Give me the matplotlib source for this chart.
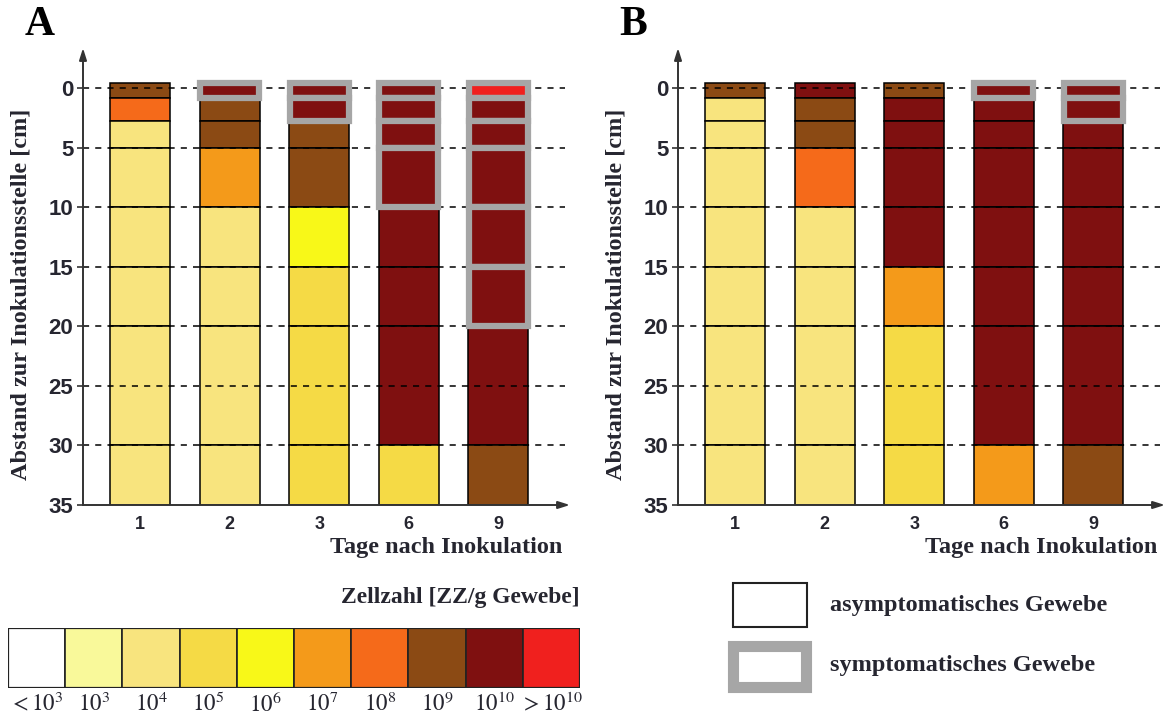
import matplotlib.pyplot as plt
from matplotlib.patches import Rectangle

# days after inoculation (x categories)
days = ["1", "2", "3", "6", "9"]

# depth segments along the stem [cm]
seg_top = [-0.5, 0.8, 2.75, 5, 10, 15, 20, 30]
seg_bottom = [0.8, 2.75, 5, 10, 15, 20, 30, 35]

# cell count classes
level_labels = [r"$<10^{3}$", r"$10^{3}$", r"$10^{4}$", r"$10^{5}$", r"$10^{6}$",
                r"$10^{7}$", r"$10^{8}$", r"$10^{9}$", r"$10^{10}$", r"$>10^{10}$"]
level_colors = ["#ffffff", "#f9f99a", "#f8e47e", "#f5da45", "#f8f818",
                "#f49a1a", "#f56a1a", "#8b4a14", "#7f1010", "#f0201e"]

# panel A: class index per segment (top -> bottom), one row per day
levels_a = [
    [7, 6, 2, 2, 2, 2, 2, 2],
    [8, 7, 7, 5, 2, 2, 2, 2],
    [8, 8, 7, 7, 4, 3, 3, 3],
    [8, 8, 8, 8, 8, 8, 8, 3],
    [9, 8, 8, 8, 8, 8, 8, 7],
]
symptom_a = [
    [0, 0, 0, 0, 0, 0, 0, 0],
    [1, 0, 0, 0, 0, 0, 0, 0],
    [1, 1, 0, 0, 0, 0, 0, 0],
    [1, 1, 1, 1, 0, 0, 0, 0],
    [1, 1, 1, 1, 1, 1, 0, 0],
]

# panel B
levels_b = [
    [7, 2, 2, 2, 2, 2, 2, 2],
    [8, 7, 7, 6, 2, 2, 2, 2],
    [7, 8, 8, 8, 8, 5, 3, 3],
    [8, 8, 8, 8, 8, 8, 8, 5],
    [8, 8, 8, 8, 8, 8, 8, 7],
]
symptom_b = [
    [0, 0, 0, 0, 0, 0, 0, 0],
    [0, 0, 0, 0, 0, 0, 0, 0],
    [0, 0, 0, 0, 0, 0, 0, 0],
    [1, 0, 0, 0, 0, 0, 0, 0],
    [1, 1, 0, 0, 0, 0, 0, 0],
]

plt.rcParams['mathtext.fontset'] = 'stix'
SERIF = ['Liberation Serif', 'DejaVu Serif']
SANS = ['Liberation Sans Narrow', 'Liberation Sans', 'DejaVu Sans']
TXT = '#262630'
GRAY = '#a6a6a6'

W, H = 1167, 717
fig = plt.figure(figsize=(W / 100, H / 100), dpi=100)


def px_axes(x0, y0, x1, y1):
    # axes from pixel box (top-left origin)
    return fig.add_axes([x0 / W, 1 - y1 / H, (x1 - x0) / W, (y1 - y0) / H])


def draw_panel(ax, levels, symptoms, letter):
    xmin, xmax = -0.64, 4.8
    ax.set_xlim(xmin, xmax)
    ax.set_ylim(35, -3.4)

    # dashed grid
    for y in range(0, 35, 5):
        ax.plot([xmin, xmax - 0.06], [y, y], ls=(0, (4, 4)), color='black', lw=1.1, zorder=3)

    for i in range(len(days)):
        for j in range(len(seg_top)):
            h = seg_bottom[j] - seg_top[j]
            c = level_colors[levels[i][j]]
            if symptoms[i][j]:
                ax.bar(i, h, bottom=seg_top[j], width=0.66, color=c,
                       edgecolor=GRAY, lw=4.5, zorder=5)
            else:
                ax.bar(i, h, bottom=seg_top[j], width=0.67, color=c,
                       edgecolor='black', lw=1.1, zorder=2)

    for s in ax.spines.values():
        s.set_visible(False)
    arrow = dict(arrowstyle='-|>,head_length=0.7,head_width=0.22', color='#333333',
                 lw=1.4, shrinkA=0, shrinkB=0)
    ax.annotate('', xy=(0, 1), xytext=(0, 0), xycoords='axes fraction', arrowprops=arrow)
    ax.annotate('', xy=(1, 0), xytext=(0, 0), xycoords='axes fraction', arrowprops=arrow)

    ax.set_yticks(range(0, 36, 5))
    ax.set_yticklabels([str(v) for v in range(0, 36, 5)], family=SANS,
                       fontsize=16, fontweight='bold', color=TXT)
    ax.tick_params(axis='y', length=4, width=1.2, color='#333333', pad=3)
    ax.set_xticks(range(len(days)))
    ax.set_xticklabels(days, family=SANS, fontsize=13, fontweight='bold', color=TXT)
    ax.tick_params(axis='x', length=0, pad=8)

    ax.text(0.985, -0.094, 'Tage nach Inokulation', transform=ax.transAxes, ha='right',
            va='center', family=SERIF, fontsize=17.5, fontweight='bold', color=TXT)
    ax.text(-0.128, 0.46, 'Abstand zur Inokulationsstelle [cm]', transform=ax.transAxes,
            rotation=90, ha='center', va='center', family=SERIF, fontsize=17.5,
            fontweight='bold', color=TXT)
    ax.text(-0.12, 1.05, letter, transform=ax.transAxes, ha='left', va='center',
            family=SERIF, fontsize=30, fontweight='bold', color='black')


ax_a = px_axes(83, 48, 570, 505)
draw_panel(ax_a, levels_a, symptom_a, 'A')
ax_b = px_axes(678, 48, 1165, 505)
draw_panel(ax_b, levels_b, symptom_b, 'B')

# colour scale legend
ax_c = px_axes(8, 628, 580, 688)
n = len(level_colors)
ax_c.bar(range(n), 1, width=1, color=level_colors, edgecolor='#222222', lw=1.2)
ax_c.set_xlim(-0.5, n - 0.5)
ax_c.set_ylim(0, 1)
ax_c.axis('off')
ax_c.add_patch(Rectangle((-0.5, 0), n, 1, fill=False, ec='#222222', lw=1.6))
for k, lab in enumerate(level_labels):
    ax_c.text(k, -0.27, lab, ha='center', va='center', fontsize=16.5, color=TXT)
ax_c.text(1.0, 1.5, 'Zellzahl [ZZ/g Gewebe]', transform=ax_c.transAxes, ha='right',
          va='center', family=SERIF, fontsize=17, fontweight='bold', color=TXT)

# symptom legend
ov = fig.add_axes([0, 0, 1, 1], zorder=-1)
ov.set_xlim(0, W)
ov.set_ylim(H, 0)
ov.axis('off')
ov.add_patch(Rectangle((733, 583), 74, 44, fill=False, ec='#222222', lw=1.5))
ov.add_patch(Rectangle((732.5, 645.5), 73, 41, fill=False, ec=GRAY, lw=8, joinstyle='miter'))
ov.text(830, 606, 'asymptomatisches Gewebe', ha='left', va='center', family=SERIF,
        fontsize=17.5, fontweight='bold', color=TXT)
ov.text(830, 666, 'symptomatisches Gewebe', ha='left', va='center', family=SERIF,
        fontsize=17.5, fontweight='bold', color=TXT)

fig.savefig('out.png', dpi=100)
